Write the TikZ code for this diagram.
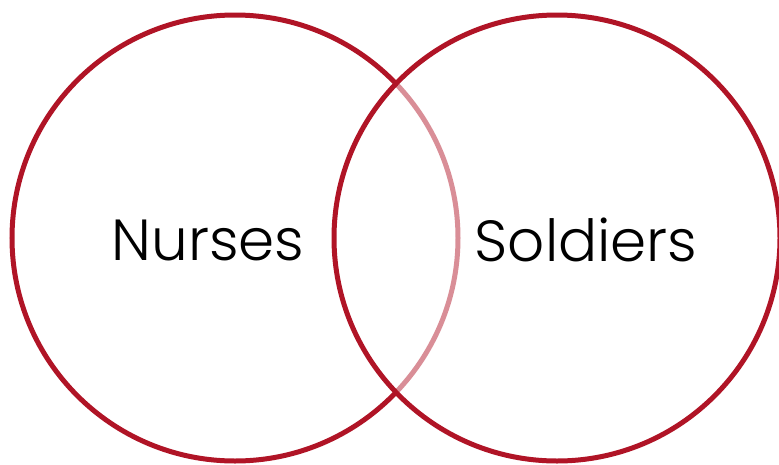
\documentclass[tikz,border=0pt]{standalone}
\usepackage{fontspec}
\setmainfont{Poppins Light}
\definecolor{ringred}{RGB}{176,20,38}
\begin{document}
\begin{tikzpicture}[x=1pt,y=-1pt,
  ring/.style={circle, draw=ringred, line width=5pt, minimum size=446pt, inner sep=0pt},
  label/.style={font=\fontsize{58}{60}\selectfont, text=black, inner sep=0pt}]
\useasboundingbox (0,0) rectangle (779,464);
\node[ring] (L) at (235,238) {};
\node[ring, fill=white, fill opacity=0.52] (R) at (557,238) {};
\node[label] (n) at (208,240) {Nurses};
\node[label] (s) at (586,240) {Soldiers};
\end{tikzpicture}
\end{document}
